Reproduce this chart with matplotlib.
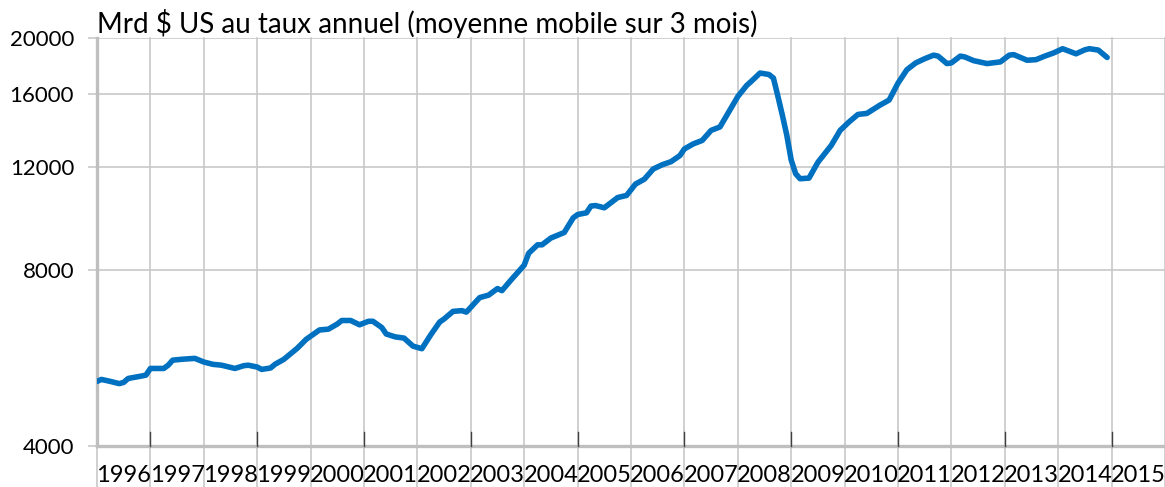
import pandas as pd
import matplotlib
matplotlib.use("Agg")
import matplotlib.pyplot as plt
from matplotlib.ticker import NullLocator

plt.rcParams['font.family'] = ['Lato', 'DejaVu Sans']

# monthly readings (Mrd $ US, annualised, 3-month moving average)
mois = ["1996-01", "1996-02", "1996-04", "1996-06", "1996-07", "1996-08", "1996-11", "1996-12",
        "1997-01", "1997-04", "1997-05", "1997-06", "1997-08", "1997-11",
        "1998-01", "1998-03", "1998-05", "1998-08", "1998-10", "1998-11",
        "1999-01", "1999-02", "1999-04", "1999-05", "1999-07", "1999-10", "1999-12",
        "2000-03", "2000-05", "2000-07", "2000-08", "2000-10", "2000-12",
        "2001-02", "2001-03", "2001-05", "2001-06", "2001-08", "2001-10", "2001-12",
        "2002-02", "2002-04", "2002-06", "2002-07", "2002-09", "2002-11", "2002-12",
        "2003-03", "2003-05", "2003-07", "2003-08", "2003-10", "2003-12",
        "2004-01", "2004-02", "2004-04", "2004-05", "2004-07", "2004-10", "2004-12",
        "2005-01", "2005-03", "2005-04", "2005-05", "2005-07", "2005-10", "2005-12",
        "2006-02", "2006-04", "2006-06", "2006-08", "2006-10", "2006-12",
        "2007-01", "2007-03", "2007-05", "2007-07", "2007-09", "2007-11",
        "2008-01", "2008-03", "2008-04", "2008-06", "2008-08", "2008-09", "2008-10",
        "2008-11", "2008-12", "2009-01", "2009-02", "2009-03", "2009-05", "2009-07",
        "2009-10", "2009-12",
        "2010-02", "2010-04", "2010-06", "2010-09", "2010-11",
        "2011-01", "2011-03", "2011-05", "2011-07", "2011-09", "2011-10", "2011-12",
        "2012-01", "2012-03", "2012-04", "2012-06", "2012-09", "2012-12",
        "2013-02", "2013-03", "2013-06", "2013-08", "2013-10", "2013-12",
        "2014-02", "2014-05", "2014-07", "2014-08", "2014-10", "2014-12"]

valeurs = [5160, 5200, 5160, 5115, 5140, 5220, 5270, 5290,
           5430, 5430, 5500, 5610, 5630, 5650,
           5570, 5520, 5500, 5430, 5490, 5500,
           5460, 5410, 5440, 5520, 5630, 5880, 6090,
           6320, 6340, 6470, 6560, 6560, 6450,
           6540, 6540, 6380, 6220, 6150, 6120, 5930,
           5870, 6200, 6520, 6600, 6800, 6820, 6780,
           7180, 7250, 7440, 7380, 7690, 8000,
           8160, 8550, 8840, 8840, 9080, 9280, 9830,
           9960, 10030, 10300, 10320, 10230, 10650, 10740,
           11230, 11450, 11920, 12120, 12270, 12570,
           12900, 13160, 13340, 13880, 14070, 14940,
           15860, 16570, 16830, 17400, 17300, 17060, 15890,
           14750, 13630, 12350, 11700, 11470, 11500, 12240,
           13080, 13880,
           14350, 14780, 14840, 15340, 15640,
           16720, 17630, 18110, 18410, 18670, 18600, 18060,
           18110, 18600, 18540, 18270, 18060, 18180,
           18670, 18710, 18300, 18340, 18600, 18840,
           19150, 18770, 19070, 19150, 19050, 18500]

annees = list(range(1996, 2016))
yticks = [4000, 8000, 12000, 16000, 20000]
sous_titre = "Mrd $ US au taux annuel (moyenne mobile sur 3 mois)"

dates = pd.to_datetime(mois)
x = dates.year + (dates.month - 1) / 12

W, H = 1165, 487
fig = plt.figure(figsize=(W / 100, H / 100), dpi=100)
ax = fig.add_axes([97 / W, 41 / H, 1068 / W, 408.3 / H])

grid_col = "#C8C8C8"
ax.set_yscale("log")
ax.set_ylim(4000, 20000)
ax.set_xlim(1996, 2016)
ax.yaxis.set_minor_locator(NullLocator())
ax.set_yticks(yticks)
ax.set_yticklabels([str(t) for t in yticks])
ax.set_xticks([])
ax.tick_params(axis="y", length=6.5, color=grid_col, width=1.2, pad=10, labelsize=16)
ax.grid(axis="y", color=grid_col, lw=1.2)

for s in ["top", "right"]:
    ax.spines[s].set_visible(False)
for s in ["left", "bottom"]:
    ax.spines[s].set_color("#BFBFBF")
    ax.spines[s].set_linewidth(2.4)

# year separators, running down through the label band
xt = ax.get_xaxis_transform()
ext = 41 / 408.3
for yr in range(1996, 2017):
    ax.plot([yr, yr], [-ext, 1], transform=xt, color=grid_col, lw=1.2,
            clip_on=False, zorder=0.5)
# dark ticks every two years
for yr in range(1997, 2017, 2):
    ax.plot([yr, yr], [0, 14 / 408.3], transform=xt, color="#404040", lw=1.0,
            clip_on=False, zorder=3)

for yr in annees:
    ax.text(yr + 0.5, -30 / 408.3, str(yr), transform=xt, ha="center",
            va="center", fontsize=17)

ax.plot(x, valeurs, color="#0070C0", lw=4.0, solid_joinstyle="round",
        solid_capstyle="round", zorder=4)

fig.text(97 / W, 1 - 33 / H, sous_titre, fontsize=20, va="baseline", ha="left")

fig.savefig("out.png", dpi=100)
